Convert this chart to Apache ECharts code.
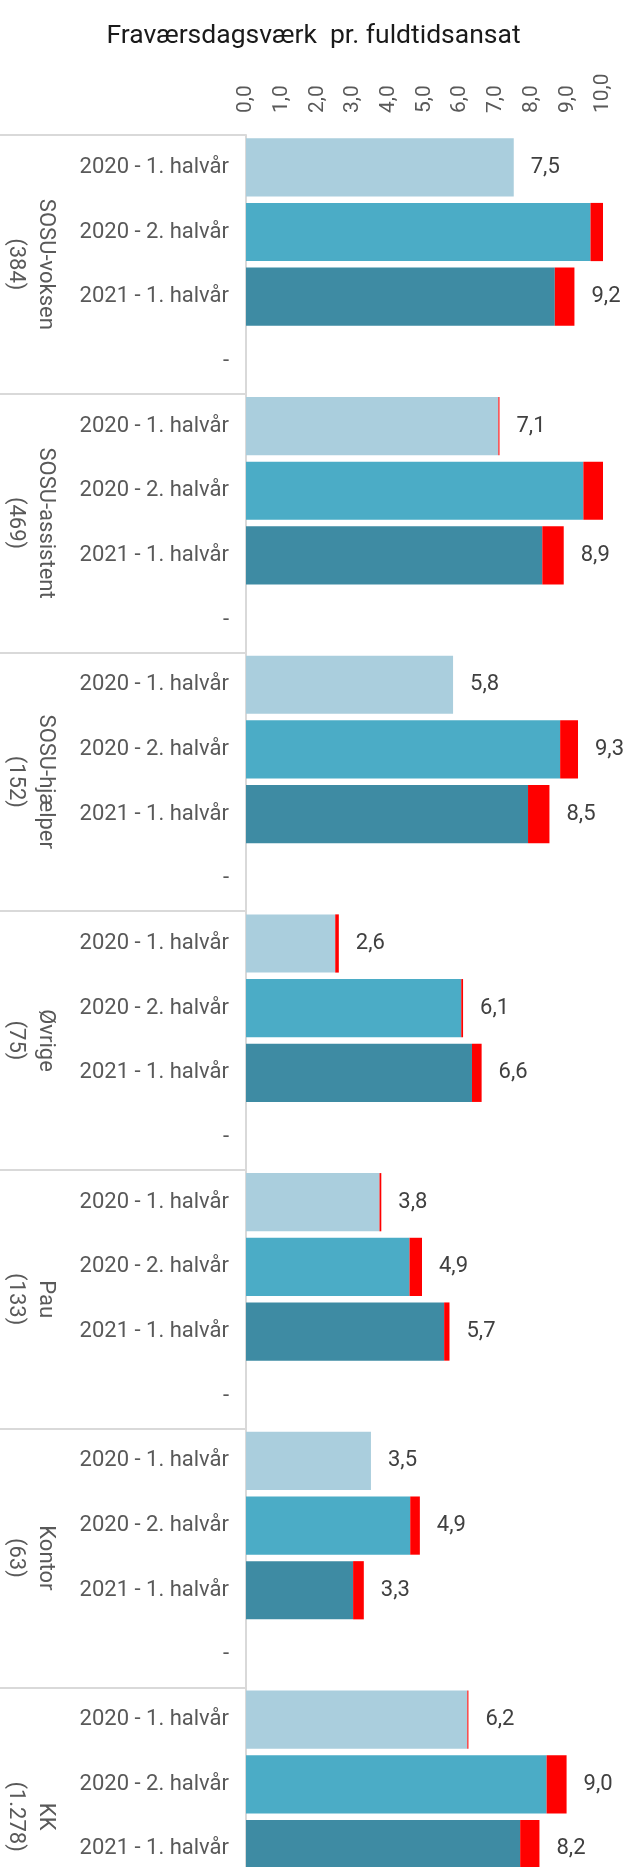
<!DOCTYPE html>
<html>
<head>
<meta charset="utf-8">
<script src="https://cdn.jsdelivr.net/npm/echarts@6/dist/echarts.min.js"></script>
<style>
  html, body { margin: 0; padding: 0; background: #fff; overflow: hidden; }
  #main { width: 627px; height: 1867px; }
</style>
</head>
<body>
<div id="main"></div>
<script>
// grupper (antal medarbejdere i parentes)
var groups = ['SOSU-voksen\n(384)', 'SOSU-assistent\n(469)', 'SOSU-hjælper\n(152)', 'Øvrige\n(75)', 'Pau\n(133)', 'Kontor\n(63)', 'KK\n(1.278)'];
var periods = ['2020 - 1. halvår', '2020 - 2. halvår', '2021 - 1. halvår'];
// blå del af søjlen
var baseValues = [
    [7.5, 9.65, 8.65],
    [7.07, 9.45, 8.3],
    [5.8, 8.8, 7.9],
    [2.5, 6.03, 6.33],
    [3.74, 4.58, 5.55],
    [3.5, 4.6, 3.0],
    [6.2, 8.42, 7.68]
];
// rød del af søjlen
var extraValues = [
    [0, 0.55, 0.55],
    [0.03, 0.65, 0.6],
    [0, 0.5, 0.6],
    [0.1, 0.05, 0.27],
    [0.05, 0.35, 0.15],
    [0, 0.27, 0.3],
    [0.03, 0.56, 0.54]
];
// total (datalabel)
var totals = [
    [7.5, 10.2, 9.2],
    [7.1, 10.1, 8.9],
    [5.8, 9.3, 8.5],
    [2.6, 6.1, 6.6],
    [3.8, 4.9, 5.7],
    [3.5, 4.9, 3.3],
    [6.2, 9.0, 8.2]
];
var xTicks = [0, 1, 2, 3, 4, 5, 6, 7, 8, 9, 10];
var periodColors = ['#AACEDD', '#4BACC6', '#3E8BA3'];

var xMax = xTicks[xTicks.length - 1];

// byg kategorier: 3 perioder + '-' pr. gruppe
var categories = [];
var baseData = [];
var extraData = [];
groups.forEach(function (g, gi) {
    periods.forEach(function (p, pi) {
        categories.push(p);
        baseData.push({ value: baseValues[gi][pi], itemStyle: { color: periodColors[pi] } });
        var t = totals[gi][pi];
        extraData.push({
            value: extraValues[gi][pi],
            total: t,
            label: { show: t <= xMax }
        });
    });
    categories.push('-');
    baseData.push(null);
    extraData.push(null);
});

var myChart = echarts.init(document.getElementById('main'));
var font = 'Roboto';
var option = {
    animation: false,
    textStyle: { fontFamily: font },
    title: {
        text: 'Fraværsdagsværk  pr. fuldtidsansat',
        left: 'center',
        top: 18,
        textStyle: { fontSize: 26.5, fontWeight: 'normal', color: '#1a1a1a', fontFamily: font }
    },
    grid: {
        left: 246,
        top: 135,
        width: 357,
        height: 1811, // sidste kategori ligger under billedkanten
        outerBoundsMode: 'none'
    },
    xAxis: {
        type: 'value',
        position: 'top',
        min: 0,
        max: xMax,
        interval: 1,
        axisLine: { show: false },
        axisTick: { show: false },
        splitLine: { show: false },
        axisLabel: {
            rotate: -90,
            margin: 22,
            fontSize: 21,
            color: '#595959',
            formatter: function (v) { return v.toFixed(1).replace('.', ','); }
        }
    },
    yAxis: [
        {
            type: 'category',
            inverse: true,
            data: categories,
            axisLine: { show: true, lineStyle: { color: '#d9d9d9', width: 2 } },
            axisTick: { show: false },
            axisLabel: { fontSize: 22, color: '#595959', margin: 17 }
        },
        {
            type: 'category',
            inverse: true,
            position: 'left',
            data: groups,
            axisLine: { show: false },
            axisTick: {
                show: true,
                length: 246,
                interval: 0,
                lineStyle: { color: '#d9d9d9', width: 2 }
            },
            axisLabel: {
                rotate: -90,
                interval: 0,
                margin: 186,
                fontSize: 22,
                lineHeight: 30,
                color: '#595959'
            }
        }
    ],
    series: [
        {
            name: 'fravær',
            type: 'bar',
            stack: 'total',
            barCategoryGap: '10%',
            data: baseData
        },
        {
            name: 'ekstra',
            type: 'bar',
            stack: 'total',
            barCategoryGap: '10%',
            itemStyle: { color: '#FF0000' },
            label: {
                position: 'right',
                distance: 17,
                fontSize: 22,
                color: '#404040',
                formatter: function (p) {
                    return p.data.total.toFixed(1).replace('.', ',');
                }
            },
            data: extraData
        }
    ]
};
myChart.setOption(option);
</script>
</body>
</html>
